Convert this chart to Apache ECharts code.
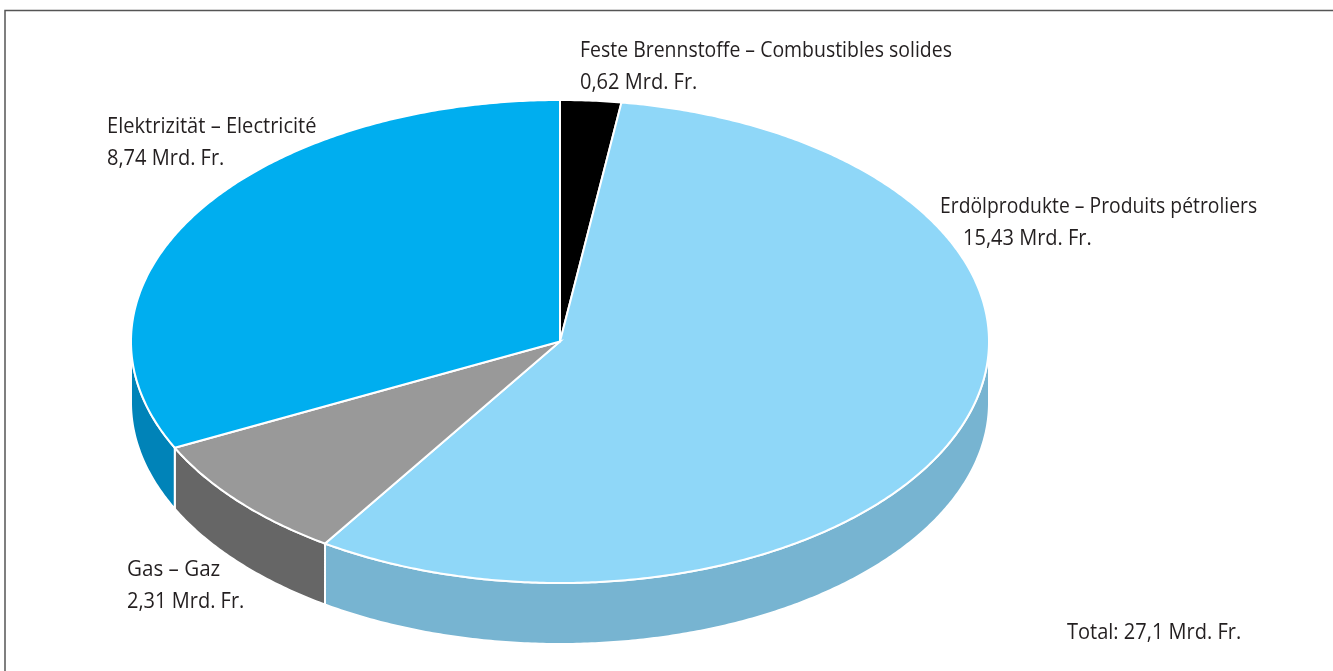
<!DOCTYPE html>
<html><head><meta charset="utf-8">
<style>html,body{margin:0;padding:0;background:#fff}#c{width:1333px;height:671px}</style>
<script src="https://cdn.jsdelivr.net/npm/echarts@6/dist/echarts.min.js"></script>
</head><body><div id="c"></div>
<script>
const categories = ['Feste Brennstoffe – Combustibles solides','Erdölprodukte – Produits pétroliers','Gas – Gaz','Elektrizität – Electricité'];
const values = [0.62,15.43,2.31,8.74];
const topColors = ['#000000','#8fd7f8','#999999','#00aeef'];
const wallColors = ['#000000','#77b4d1','#666666','#0083b8'];
const totalLabel = 'Total: 27,1 Mrd. Fr.';
const labelPos = [[580,41,580],[940,197,963],[127,560,127],[107,116.5,107]];
const nameScale = [0.926,0.92,0.98,0.956];
const valueScale = 0.953;

const CX=560,CY=341.5,RX=429,RY=241.5,DEPTH=61;
const FONT='"Open Sans"';
const FS=21;
const total=values.reduce((a,b)=>a+b,0);
function range(i){let s=0;for(let k=0;k<i;k++)s+=values[k];return [s/total*360,(s+values[i])/total*360];}
function pt(deg,dy){const r=deg*Math.PI/180;return [CX+RX*Math.sin(r),CY-RY*Math.cos(r)+(dy||0)];}
function arc(a,b,dy){const out=[];const n=Math.max(2,Math.ceil((b-a)*2));for(let j=0;j<=n;j++)out.push(pt(a+(b-a)*j/n,dy));return out;}
function fmt(v){return v.toFixed(2).replace('.',',')+' Mrd. Fr.';}
function txt(t,x,y,sx){return {type:'text',silent:true,x:x,y:y,scaleX:sx,style:{text:t,font:FS+'px '+FONT,fill:'#231f20',textVerticalAlign:'top'}};}

const c=echarts.init(document.getElementById('c'),null,{renderer:'canvas'});
c.setOption({
  animation:false,
  backgroundColor:'#ffffff',
  graphic:{elements:[
    {type:'polyline',silent:true,shape:{points:[[5,671],[5,10.5],[1333,10.5]]},style:{stroke:'#555555',lineWidth:1.5,fill:null}},
    ...categories.map((n,i)=>txt(n,labelPos[i][0],labelPos[i][1],nameScale[i])),
    ...categories.map((n,i)=>txt(fmt(values[i]),labelPos[i][2],labelPos[i][1]+32,valueScale)),
    txt(totalLabel,1067,623,valueScale)
  ]},
  series:[
    {type:'custom',coordinateSystem:'none',silent:true,data:values,z:1,
     renderItem(p){
       const [a,b]=range(p.dataIndex);
       const s=Math.max(a,90),e=Math.min(b,270);
       if(e<=s)return {type:'group',children:[]};
       const pts=arc(s,e,0).concat(arc(s,e,DEPTH).reverse());
       return {type:'polygon',shape:{points:pts},style:{fill:wallColors[p.dataIndex],stroke:'#ffffff',lineWidth:2}};
     }},
    {type:'custom',coordinateSystem:'none',silent:true,data:values,z:2,
     renderItem(p){
       const [a,b]=range(p.dataIndex);
       const pts=[[CX,CY]].concat(arc(a,b,0));
       return {type:'polygon',shape:{points:pts},style:{fill:topColors[p.dataIndex],stroke:'#ffffff',lineWidth:2}};
     }}
  ]
});
</script></body></html>
